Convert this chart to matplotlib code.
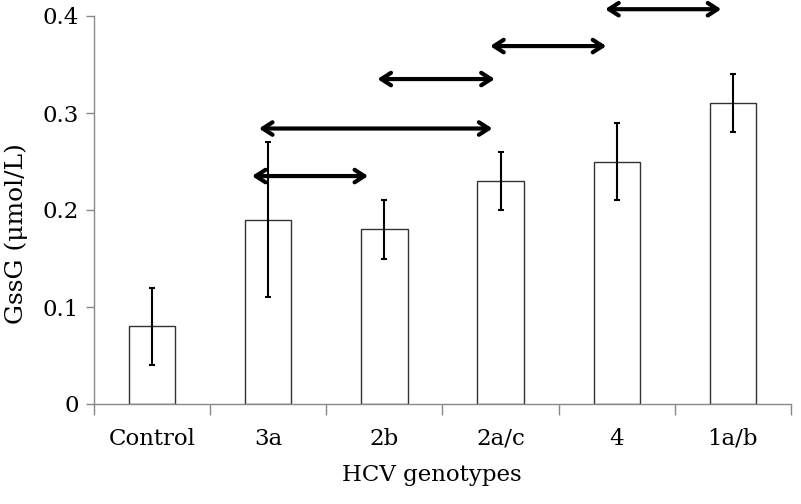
import matplotlib
matplotlib.use("Agg")
import matplotlib.pyplot as plt
import numpy as np

categories = ["Control", "3a", "2b", "2a/c", "4", "1a/b"]
means = [0.08, 0.19, 0.18, 0.23, 0.25, 0.31]
lower = [0.04, 0.11, 0.15, 0.20, 0.21, 0.28]
upper = [0.12, 0.27, 0.21, 0.26, 0.29, 0.34]
# comparison arrows: (start category pos, end category pos, height)
arrow_start = [3.9, 2.91, 1.94, 0.92, 0.86]
arrow_end = [4.9, 3.91, 2.95, 2.93, 1.86]
arrow_y = [0.407, 0.369, 0.335, 0.284, 0.235]
yticks = [0, 0.1, 0.2, 0.3, 0.4]
ytick_labels = ["0", "0.1", "0.2", "0.3", "0.4"]

plt.rcParams['font.family'] = ['DejaVu Serif']
fig = plt.figure(figsize=(8.01, 5.04), dpi=100)
ax = fig.add_axes([94/801, 1-404/504, (791-94)/801, (404-16)/504])

x = np.arange(len(categories))
means_a = np.array(means)
yerr = np.array([means_a - np.array(lower), np.array(upper) - means_a])
ax.bar(x, means, width=0.4, color="white", edgecolor="#333333", linewidth=1.0, zorder=2)
ax.errorbar(x, means, yerr=yerr, fmt="none", ecolor="black", elinewidth=1.5,
            capsize=2.5, capthick=1.5, zorder=3)

for s, e, yy in zip(arrow_start, arrow_end, arrow_y):
    ax.annotate("", xy=(e, yy), xytext=(s, yy),
                arrowprops=dict(arrowstyle="<->,head_length=0.7,head_width=0.45",
                                lw=3.0, color="black", shrinkA=0, shrinkB=0),
                annotation_clip=False, zorder=4)

ax.set_xlim(-0.5, len(categories) - 0.5)
ax.set_ylim(0, 0.4)
ax.set_yticks(yticks)
ax.set_yticklabels(ytick_labels, fontsize=16.5)
ax.set_xticks(x)
ax.set_xticklabels(categories, fontsize=16.5)
ax.set_xticks(np.arange(-0.5, len(categories)), minor=True)
ax.tick_params(axis="x", which="major", length=0, pad=17)
ax.tick_params(axis="x", which="minor", length=8, color="#888888", width=1)
ax.tick_params(axis="y", which="major", length=6, color="#888888", width=1, pad=5)

for side in ["top", "right"]:
    ax.spines[side].set_visible(False)
for side in ["left", "bottom"]:
    ax.spines[side].set_color("#888888")
    ax.spines[side].set_linewidth(1)

ax.set_xlabel("HCV genotypes", fontsize=16.5)
ax.set_ylabel("GssG (μmol/L)", fontsize=18)
ax.xaxis.set_label_coords(0.485, -0.155)
ax.yaxis.set_label_coords(-0.095, 0.44)

fig.savefig("out.png", dpi=100)
